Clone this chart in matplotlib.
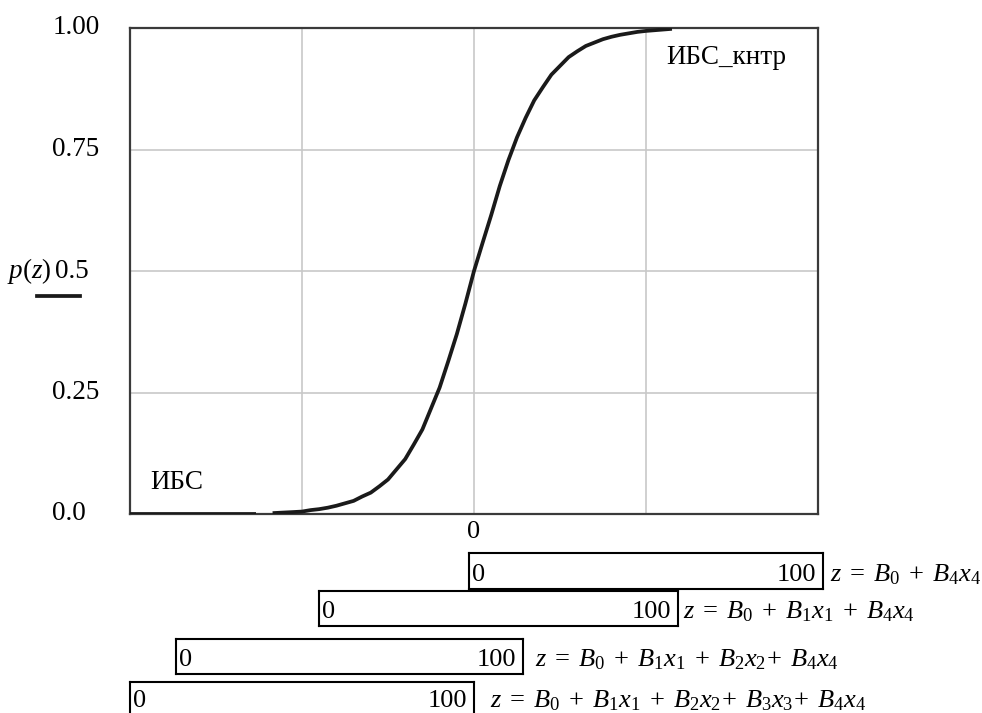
import matplotlib
matplotlib.use("Agg")
import matplotlib.pyplot as plt
from matplotlib.lines import Line2D

plt.rcParams['font.family'] = ['Liberation Serif', 'DejaVu Serif']
plt.rcParams['mathtext.fontset'] = 'custom'
plt.rcParams['mathtext.rm'] = 'Liberation Serif'
plt.rcParams['mathtext.it'] = 'Liberation Serif:italic'

# data (z in grid units, 0 at centre)
z_flat = [-2.0, -1.27]
p_flat = [0.0, 0.0]
z_curve = [-1.16, -1.05, -1.0, -0.95, -0.9, -0.85, -0.8, -0.75, -0.7, -0.65, -0.6, -0.55,
           -0.5, -0.45, -0.4, -0.35, -0.3, -0.25, -0.2, -0.15, -0.1, -0.05, 0.0,
           0.05, 0.1, 0.15, 0.2, 0.25, 0.3, 0.35, 0.4, 0.45, 0.5, 0.55, 0.6, 0.65,
           0.7, 0.75, 0.8, 0.85, 0.9, 0.95, 1.0, 1.07, 1.14]
p_curve = [0.002, 0.004, 0.005, 0.008, 0.010, 0.013, 0.017, 0.022, 0.027, 0.036, 0.044, 0.057,
           0.071, 0.092, 0.113, 0.143, 0.174, 0.217, 0.26, 0.314, 0.37, 0.433, 0.5,
           0.558, 0.615, 0.675, 0.728, 0.775, 0.815, 0.851, 0.878, 0.904, 0.922, 0.940, 0.952, 0.963,
           0.970, 0.977, 0.982, 0.986, 0.989, 0.992, 0.994, 0.996, 0.998]

y_ticks = [0.0, 0.25, 0.5, 0.75, 1.0]
y_labels = ["0.0", "0.25", "0.5", "0.75", "1.00"]

slider_min = ["0", "0", "0", "0"]
slider_max = ["100", "100", "100", "100"]
equations = [r"$z\;=\;B_0\;+\;B_4x_4$",
             r"$z\;=\;B_0\;+\;B_1x_1\;+\;B_4x_4$",
             r"$z\;=\;B_0\;+\;B_1x_1\;+\;B_2x_2\!+\;B_4x_4$",
             r"$z\;=\;B_0\;+\;B_1x_1\;+\;B_2x_2\!+\;B_3x_3\!+\;B_4x_4$"]

W, H = 982, 713
fig = plt.figure(figsize=(W / 100, H / 100), dpi=100)

def fx(px):
    return px / W

def fy(py):
    return 1 - py / H

ax = fig.add_axes([fx(130), fy(514), fx(688), 486 / H])
ax.set_xlim(-2, 2)
ax.set_ylim(0, 1)
ax.plot(z_flat, p_flat, color="#1a1a1a", lw=2.7, solid_capstyle="butt", zorder=3)
ax.plot(z_curve, p_curve, color="#1a1a1a", lw=2.7, zorder=3)

for gx in [-1, 0, 1]:
    ax.axvline(gx, color="#c8c8c8", lw=1.2, zorder=1)
for gy in [0.25, 0.5, 0.75]:
    ax.axhline(gy, color="#c8c8c8", lw=1.2, zorder=1)

for s in ax.spines.values():
    s.set_color("#3a3a3a")
    s.set_linewidth(1.6)

ax.set_xticks([0])
ax.set_xticklabels(["0"], fontsize=19)
ax.tick_params(axis="x", length=0, pad=5)
ax.set_yticks([])

ytr = ax.get_yaxis_transform()
for v, lab in zip(y_ticks, y_labels):
    ax.text(-0.113 if v != 0.5 else -0.109, v, lab, transform=ytr, ha="left", va="center",
            fontsize=19.5, clip_on=False)
ax.text(-0.114, 0.5, r"$p(z)$", transform=ytr, ha="right", va="center",
        fontsize=19.5, clip_on=False)
fig.add_artist(Line2D([fx(37), fx(80)], [fy(296), fy(296)], color="#1a1a1a", lw=2.7,
                      transform=fig.transFigure))

ax.text(0.03, 0.065, "ИБС", transform=ax.transAxes, fontsize=19.5, va="center", ha="left")
ax.text(0.78, 0.94, "ИБС_кнтр", transform=ax.transAxes, fontsize=19.5, va="center", ha="left")

# slider boxes: left, top, right, bottom (pixels)
boxes = [(469, 553, 823, 589), (319, 591, 678, 626), (176, 639, 523, 674), (130, 682, 474, 740)]
baselines = [581, 618, 666, 707]
eq_gap = [7, 5, 12, 16]
for (l, t, r, b), base, gap, lo, hi, eq in zip(boxes, baselines, eq_gap, slider_min, slider_max, equations):
    bx = fig.add_axes([fx(l), fy(b), fx(r - l), (b - t) / H])
    bx.set_xticks([])
    bx.set_yticks([])
    for s in bx.spines.values():
        s.set_color("black")
        s.set_linewidth(1.5)
    fig.text(fx(l + 3), fy(base), lo, fontsize=19, ha="left", va="baseline")
    fig.text(fx(r - 7), fy(base), hi, fontsize=19, ha="right", va="baseline")
    fig.text(fx(r + gap), fy(base), eq, fontsize=19, ha="left", va="baseline")

fig.savefig("out.png", dpi=100)
